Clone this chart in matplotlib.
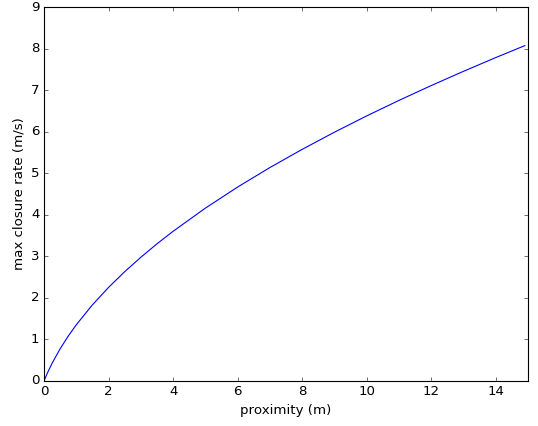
import matplotlib
matplotlib.use("Agg")
import matplotlib.pyplot as plt

plt.style.use("classic")

proximity = [0, 0.1, 0.25, 0.5, 0.75, 1, 1.5, 2, 2.5, 3, 3.5, 4, 5, 6, 7, 8,
             9, 10, 11, 12, 13, 14, 14.9]
closure_rate = [0, 0.183, 0.426, 0.775, 1.079, 1.352, 1.832, 2.252, 2.630,
                2.977, 3.300, 3.602, 4.159, 4.667, 5.136, 5.574, 5.987, 6.379,
                6.752, 7.109, 7.452, 7.783, 8.070]

fig = plt.figure(figsize=(538 / 80, 426 / 80), dpi=80, facecolor="white")
ax = fig.add_axes([44 / 538, 45 / 426, 484 / 538, 374 / 426])
ax.plot(proximity, closure_rate, color="b", linewidth=1.0)
ax.set_xlim(0, 15)
ax.set_ylim(0, 9)
ax.set_xticks([0, 2, 4, 6, 8, 10, 12, 14])
ax.set_yticks(range(0, 10))
ax.set_xlabel("proximity (m)")
ax.set_ylabel("max closure rate (m/s)")
fig.savefig("out.png", dpi=80, facecolor="white")
